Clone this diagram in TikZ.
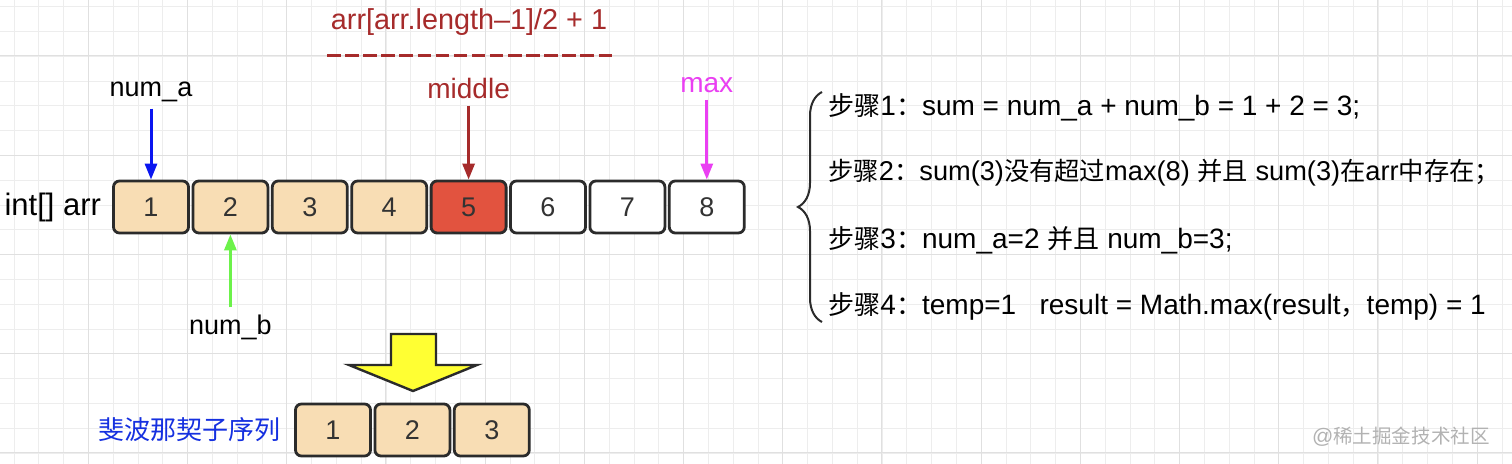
\documentclass[tikz,border=0pt]{standalone}
\usepackage{fontspec}
\setmainfont{Liberation Sans}
\newfontfamily\cjk[Scale=0.93]{Noto Sans CJK SC}
\usetikzlibrary{arrows.meta, positioning, decorations.pathreplacing}

\definecolor{cellfill}{HTML}{F8DDB4}
\definecolor{midfill}{HTML}{E2533F}
\definecolor{cellline}{HTML}{2B2B2B}
\definecolor{midred}{HTML}{A62B2B}
\definecolor{maxpink}{HTML}{EA3FF2}
\definecolor{bgreen}{HTML}{6CF24A}
\definecolor{ptrblue}{HTML}{0A16F0}
\definecolor{seqblue}{HTML}{1530E0}
\definecolor{arrowyellow}{HTML}{FFFF33}

\begin{document}
\begin{tikzpicture}[
    x=0.5pt, y=-0.5pt,
    txt/.style={font=\fontsize{14}{16}\selectfont},
    cell/.style={draw=cellline, line width=1.4pt, rounded corners=3pt, fill=cellfill, minimum width=37.5pt, minimum height=26pt, font=\fontsize{13.5}{16}\selectfont, text=black!80},
    ptr/.style={-{Triangle[length=8pt, width=6pt]}, line width=1.5pt},
    steptext/.style={txt, anchor=west, inner sep=0pt}
]

% Background and grid
\fill[white] (0,0) rectangle (1512,464);
\useasboundingbox (0,0) rectangle (1512,464);
\begin{scope}
    \clip (0,0) rectangle (1512,464);
    \draw[black!7, line width=0.5pt, shift={(14,6.7)}, step=12.4pt] (-60,520) grid (1560,-60);
    \draw[black!12, line width=0.5pt, shift={(88.3,56)}, step=49.6pt] (-120,560) grid (1560,-120);
\end{scope}

% Array cells
\node[cell] (a1) at (151,207) {1};
\node[cell, right=0.8pt of a1] (a2) {2};
\node[cell, right=0.8pt of a2] (a3) {3};
\node[cell, right=0.8pt of a3] (a4) {4};
\node[cell, right=0.8pt of a4, fill=midfill] (a5) {5};
\node[cell, right=0.8pt of a5, fill=white] (a6) {6};
\node[cell, right=0.8pt of a6, fill=white] (a7) {7};
\node[cell, right=0.8pt of a7, fill=white] (a8) {8};
\node[txt, font=\fontsize{15.5}{18}\selectfont, left=2pt of a1] (arr) {int[] arr};

% Pointer labels
\node[txt, font=\fontsize{13.5}{16}\selectfont, above=35.5pt of a1] (numa) {num\_a};
\node[txt, text=midred, above=37pt of a5] (middle) {middle};
\node[txt, text=maxpink, above=40pt of a8] (max) {max};
\node[txt, font=\fontsize{13.5}{16}\selectfont, below=36.5pt of a2] (numb) {num\_b};

% Formula over middle
\node[txt, font=\fontsize{14.4}{17}\selectfont, text=midred] (formula) at (469,22) {arr[arr.length–1]/2 + 1};
\coordinate (dashl) at (327,56);
\coordinate (dashr) at (612,56);
\draw[midred, line width=1.5pt, dash pattern=on 6.75pt off 2.3pt] (dashl) -- (dashr);

% Pointers
\draw[ptr, ptrblue] (numa) -- (a1);
\draw[ptr, midred] (middle) -- (a5);
\draw[ptr, maxpink] (max) -- (a8);
\draw[ptr, bgreen] (numb) -- (a2);

% Steps
\coordinate (brtop) at (822,92);
\coordinate (brbot) at (822,322);
\draw[cellline, line width=1pt, decorate, decoration={brace, amplitude=12pt}] (brbot) -- (brtop);
\node[steptext] (step1) at (828,107) {{\cjk 步骤}1{\cjk ：}sum = num\_a + num\_b = 1 + 2 = 3;};
\node[steptext, font=\fontsize{13.6}{16}\selectfont] (step2) at (828,173) {{\cjk 步骤}2{\cjk ：}sum(3){\cjk 没有超过}max(8) {\cjk 并且} sum(3){\cjk 在}arr{\cjk 中存在；}};
\node[steptext] (step3) at (828,240) {{\cjk 步骤}3{\cjk ：}num\_a=2 {\cjk 并且} num\_b=3;};
\node[steptext] (step4) at (828,306) {{\cjk 步骤}4{\cjk ：}temp=1\ \ \ result = Math.max(result{\cjk ，}temp) = 1};

% Result
\draw[fill=arrowyellow, draw=cellline, line width=1.2pt] (391,334) -- (436,334) -- (436,365) -- (477,365) -- (413,391) -- (349,365) -- (391,365) -- cycle;
\node[cell] (b1) at (333,430) {1};
\node[cell, right=0.8pt of b1] (b2) {2};
\node[cell, right=0.8pt of b2] (b3) {3};
\node[txt, text=seqblue, left=3pt of b1] (fib) {\cjk 斐波那契子序列};

\node[text=black!30, font=\fontsize{10.5}{12}\selectfont, anchor=east, inner sep=0pt] (mark) at (1490,437) {@{\cjk 稀土掘金技术社区}};

\end{tikzpicture}
\end{document}
